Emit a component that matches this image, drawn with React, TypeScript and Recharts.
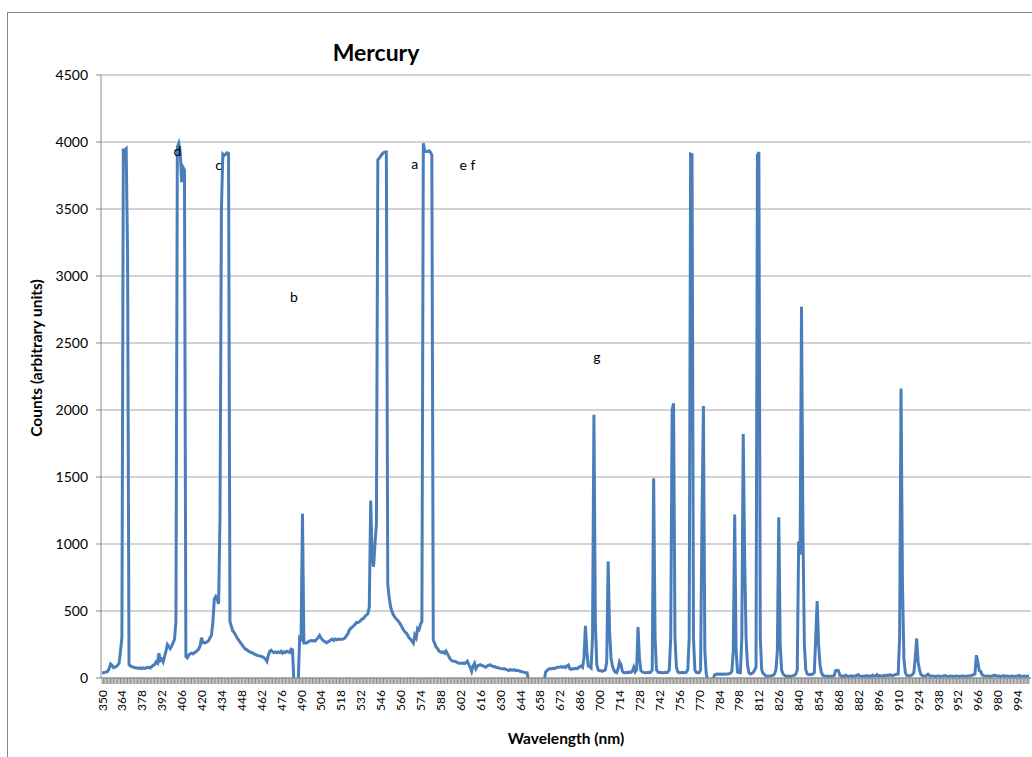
import { CartesianGrid, Line, LineChart, ReferenceDot, XAxis, YAxis } from 'recharts'

// first wavelength of the spectrum, one reading per nm
const startNm = 350

// counts, 10 readings per row (350-359, 360-369, ...)
const counts = [
  40, 40, 42, 45, 50, 70, 105, 95, 78, 80,
  85, 95, 110, 200, 300, 3940, 3940, 3950, 3150, 100,
  90, 85, 80, 78, 75, 75, 72, 75, 70, 75,
  72, 75, 78, 80, 75, 85, 95, 100, 120, 110,
  185, 130, 140, 120, 160, 200, 250, 235, 220, 240,
  262, 290, 420, 3960, 3990, 3930, 3700, 3810, 3790, 160,
  150, 170, 180, 185, 180, 190, 195, 205, 215, 240,
  300, 265, 262, 265, 270, 280, 300, 320, 420, 590,
  608, 590, 553, 1200, 3500, 3910, 3900, 3910, 3920, 3915,
  420, 385, 350, 340, 320, 300, 285, 270, 255, 240,
  225, 215, 210, 200, 195, 190, 187, 180, 175, 170,
  167, 165, 160, 158, 150, 140, 124, 170, 200, 207,
  195, 190, 195, 188, 195, 190, 200, 185, 195, 190,
  200, 195, 190, 215, 210, -40, -40, -40, -40, 300,
  290, 1225, 262, 262, 262, 270, 276, 280, 276, 280,
  276, 290, 300, 318, 300, 285, 276, 270, 262, 270,
  276, 285, 290, 280, 290, 285, 290, 288, 290, 290,
  292, 300, 318, 330, 359, 370, 380, 390, 400, 414,
  414, 420, 430, 440, 445, 460, 470, 480, 530, 1325,
  900, 830, 1000, 1150, 3867, 3880, 3895, 3910, 3920, 3925,
  3925, 700, 600, 530, 495, 470, 455, 440, 430, 415,
  400, 380, 360, 345, 335, 320, 300, 290, 275, 260,
  320, 300, 370, 360, 400, 420, 3990, 3935, 3930, 3930,
  3935, 3925, 3900, 280, 260, 230, 220, 200, 195, 190,
  195, 185, 200, 180, 160, 140, 130, 125, 125, 120,
  115, 110, 110, 110, 112, 108, 115, 125, 100, 80,
  50, 90, 110, 70, 90, 95, 100, 95, 90, 85,
  80, 90, 95, 98, 92, 85, 85, 80, 78, 75,
  72, 70, 68, 70, 65, 60, 55, 62, 60, 58,
  62, 55, 58, 55, 50, 48, 45, 42, 40, 40,
  -20, -20, -20, -20, -20, -20, -20, -20, -20, -20,
  -20, -20, 45, 55, 65, 70, 68, 72, 70, 75,
  78, 80, 82, 85, 80, 85, 78, 90, 97, 70,
  65, 70, 68, 72, 70, 75, 85, 90, 80, 150,
  390, 200, 90, 85, 75, 300, 1965, 400, 100, 60,
  55, 55, 50, 55, 60, 120, 870, 350, 150, 90,
  60, 45, 40, 70, 120, 100, 50, 40, 40, 42,
  40, 45, 42, 50, 80, 45, 60, 380, 150, 55,
  45, 42, 40, 40, 42, 40, 45, 60, 1490, 300,
  60, 45, 40, 42, 40, 40, 42, 40, 45, 60,
  300, 2000, 2050, 300, 80, 45, 40, 40, 42, 40,
  40, 45, 60, 300, 3910, 3905, 300, 60, 42, 40,
  40, 60, 1200, 2030, 200, 30, -15, -15, -15, -15,
  0, 25, 28, 30, 28, 30, 28, 30, 28, 30,
  30, 32, 35, 50, 200, 1220, 200, 45, 40, 40,
  300, 1820, 900, 300, 100, 40, 30, 35, 40, 60,
  80, 3900, 3925, 300, 60, 35, 25, 15, 14, 14,
  15, 18, 20, 30, 60, 200, 1200, 250, 60, 30,
  20, 15, 12, 14, 12, 14, 18, 20, 30, 60,
  1020, 920, 2770, 1100, 250, 60, 30, 25, 28, 25,
  30, 40, 300, 575, 250, 100, 40, 20, 14, 14,
  12, 14, 12, 14, 15, 20, 55, 58, 55, 20,
  14, 15, 14, 20, 14, 12, 14, 16, 14, 15,
  14, 20, 25, 14, 12, 14, 15, 14, 18, 14,
  15, 14, 20, 14, 15, 25, 14, 18, 15, 14,
  20, 15, 22, 18, 25, 20, 18, 22, 25, 28,
  30, 300, 2160, 700, 150, 40, 20, 18, 15, 20,
  25, 40, 150, 295, 120, 60, 25, 18, 15, 14,
  20, 28, 18, 14, 15, 14, 12, 14, 15, 14,
  12, 14, 15, 18, 14, 12, 14, 15, 14, 12,
  14, 15, 14, 12, 14, 16, 14, 12, 15, 14,
  14, 18, 20, 25, 30, 170, 120, 55, 50, 25,
  18, 15, 14, 14, 15, 12, 14, 20, 22, 14,
  14, 15, 12, 14, 18, 14, 15, 14, 12, 14,
  15, 14, 12, 14, 15, 20, 14, 12, 14, 15,
  12, 14, 15,
]

const tickLabels = [
  350, 364, 378, 392, 406, 420, 434, 448, 462, 476, 490, 504, 518, 532, 546, 560,
  574, 588, 602, 616, 630, 644, 658, 672, 686, 700, 714, 728, 742, 756, 770, 784,
  798, 812, 826, 840, 854, 868, 882, 896, 910, 924, 938, 952, 966, 980, 994,
]

const yTicks = [0, 500, 1000, 1500, 2000, 2500, 3000, 3500, 4000, 4500]

// letters written on the chart, placed at (wavelength, counts)
const annotations = [
  { text: 'd', nm: 403, count: 3930 },
  { text: 'c', nm: 432, count: 3830 },
  { text: 'b', nm: 485, count: 2845 },
  { text: 'a', nm: 570, count: 3835 },
  { text: 'e  f', nm: 607, count: 3830 },
  { text: 'g', nm: 698, count: 2395 },
]

const data = counts.map((c, i) => ({ nm: startNm + i, counts: c }))
const shownTicks = new Set(tickLabels)

const font = 'Lato, "Open Sans", sans-serif'
const axisGray = '#8c8c8c'

function NmTick({ x, y, payload }: any) {
  if (!shownTicks.has(payload.value)) return <g />
  return (
    <text
      x={x}
      y={y}
      transform={`rotate(-90, ${x}, ${y})`}
      textAnchor="end"
      dominantBaseline="central"
      fontSize={12}
      fontFamily={font}
      fill="#000"
    >
      {payload.value}
    </text>
  )
}

export default function App() {
  return (
    <div style={{ position: 'fixed', left: 0, top: 0, width: 1032, height: 757, overflow: 'hidden', background: '#fff', fontFamily: font }}>
      <div style={{ position: 'absolute', left: 7, top: 12, width: 1100, height: 800, border: '1px solid #878787' }} />
      <div style={{ position: 'absolute', left: 0, top: 0 }}>
        <LineChart width={1031} height={757} data={data} margin={{ top: 75, right: 0, bottom: 0, left: 0 }}>
          <CartesianGrid vertical={false} stroke="#a6a6a6" />
          <XAxis
            dataKey="nm"
            type="category"
            interval={0}
            height={79}
            padding={{ left: 1, right: 2 }}
            tick={<NmTick />}
            tickSize={6}
            tickMargin={6}
            tickLine={{ stroke: axisGray }}
            axisLine={{ stroke: axisGray }}
          />
          <YAxis
            width={101}
            domain={[0, 4500]}
            ticks={yTicks}
            allowDataOverflow
            interval={0}
            tickSize={5}
            tickMargin={8}
            tick={{ fontSize: 14, fill: '#000', fontFamily: font }}
            tickLine={{ stroke: axisGray }}
            axisLine={{ stroke: axisGray }}
          />
          <Line
            type="linear"
            dataKey="counts"
            stroke="#4a7ebb"
            strokeWidth={3}
            dot={false}
            activeDot={false}
            isAnimationActive={false}
          />
          {annotations.map((a) => (
            <ReferenceDot
              key={a.text}
              x={a.nm}
              y={a.count}
              r={0}
              stroke="none"
              fill="none"
              label={{ value: a.text, position: 'center', fontSize: 14, fill: '#000', fontFamily: font }}
            />
          ))}
        </LineChart>
      </div>
      <div style={{ position: 'absolute', left: 376, top: 52, transform: 'translate(-50%, -50%)', fontSize: 23, fontWeight: 700, whiteSpace: 'nowrap' }}>
        Mercury
      </div>
      <div style={{ position: 'absolute', left: 566, top: 738, transform: 'translate(-50%, -50%)', fontSize: 15.5, fontWeight: 700, whiteSpace: 'nowrap' }}>
        Wavelength (nm)
      </div>
      <div style={{ position: 'absolute', left: 36, top: 358, transform: 'translate(-50%, -50%) rotate(-90deg)', fontSize: 15.5, fontWeight: 700, whiteSpace: 'nowrap' }}>
        Counts (arbitrary units)
      </div>
    </div>
  )
}
